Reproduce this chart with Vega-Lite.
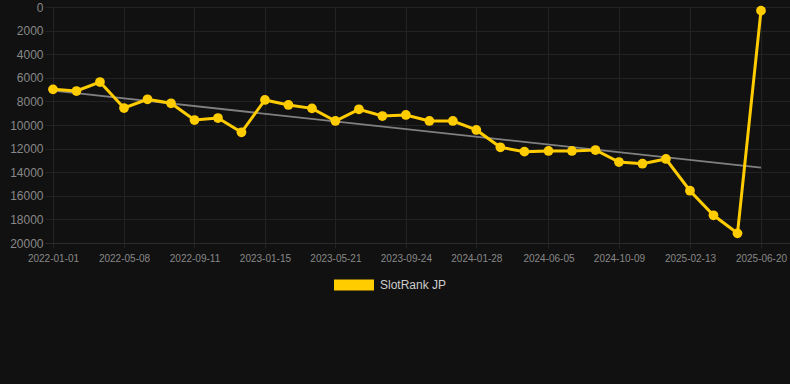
{
  "$schema": "https://vega.github.io/schema/vega-lite/v6.json",
  "autosize": {"type": "none"},
  "width": 745,
  "height": 236,
  "padding": {"left": 45, "top": 7, "right": 0, "bottom": 141},
  "background": "#111111",
  "config": {
    "view": {"stroke": null},
    "font": "Liberation Sans",
    "axis": {"gridColor": "#232323", "gridWidth": 1, "domain": false, "tickColor": "#232323", "labelColor": "#888888", "labelFont": "Liberation Sans"}
  },
  "datasets": {
    "rank": [
      {"date": "2022-01-01", "rank": 6980},
      {"date": "2022-02-12", "rank": 7120},
      {"date": "2022-03-26", "rank": 6360},
      {"date": "2022-05-08", "rank": 8560},
      {"date": "2022-06-19", "rank": 7820},
      {"date": "2022-07-31", "rank": 8160},
      {"date": "2022-09-11", "rank": 9580},
      {"date": "2022-10-23", "rank": 9410},
      {"date": "2022-12-04", "rank": 10620},
      {"date": "2023-01-15", "rank": 7880},
      {"date": "2023-02-26", "rank": 8300},
      {"date": "2023-04-09", "rank": 8590},
      {"date": "2023-05-21", "rank": 9660},
      {"date": "2023-07-02", "rank": 8670},
      {"date": "2023-08-13", "rank": 9240},
      {"date": "2023-09-24", "rank": 9150},
      {"date": "2023-11-05", "rank": 9660},
      {"date": "2023-12-17", "rank": 9660},
      {"date": "2024-01-28", "rank": 10420},
      {"date": "2024-03-11", "rank": 11890},
      {"date": "2024-04-23", "rank": 12260},
      {"date": "2024-06-05", "rank": 12200},
      {"date": "2024-07-17", "rank": 12200},
      {"date": "2024-08-28", "rank": 12120},
      {"date": "2024-10-09", "rank": 13140},
      {"date": "2024-11-20", "rank": 13280},
      {"date": "2025-01-01", "rank": 12880},
      {"date": "2025-02-13", "rank": 15570},
      {"date": "2025-03-27", "rank": 17650},
      {"date": "2025-05-09", "rank": 19180},
      {"date": "2025-06-20", "rank": 310}
    ],
    "trend": [
      {"date": "2022-01-01", "rank": 7090},
      {"date": "2025-06-20", "rank": 13620}
    ]
  },
  "encoding": {
    "x": {
      "field": "date",
      "type": "temporal",
      "scale": {"type": "utc", "domain": [{"year": 2021, "month": 12, "date": 17, "hours": 17, "utc": true}, {"year": 2025, "month": 8, "date": 10, "hours": 21, "utc": true}]},
      "axis": {
        "title": null,
        "labelExpr": "utcFormat(datum.value, '%Y-%m-%d')",
        "values": [
          {"year": 2022, "month": 1, "date": 1, "utc": true},
          {"year": 2022, "month": 5, "date": 8, "utc": true},
          {"year": 2022, "month": 9, "date": 11, "utc": true},
          {"year": 2023, "month": 1, "date": 15, "utc": true},
          {"year": 2023, "month": 5, "date": 21, "utc": true},
          {"year": 2023, "month": 9, "date": 24, "utc": true},
          {"year": 2024, "month": 1, "date": 28, "utc": true},
          {"year": 2024, "month": 6, "date": 5, "utc": true},
          {"year": 2024, "month": 10, "date": 9, "utc": true},
          {"year": 2025, "month": 2, "date": 13, "utc": true},
          {"year": 2025, "month": 6, "date": 20, "utc": true}
        ],
        "labelFontSize": 10,
        "tickSize": 5,
        "labelPadding": 5,
        "labelFlush": false,
        "labelOverlap": false,
        "domain": true,
        "domainColor": "#2c2c2c"
      }
    },
    "y": {
      "field": "rank",
      "type": "quantitative",
      "scale": {"domain": [0, 20000], "reverse": true, "nice": false},
      "axis": {
        "title": null,
        "values": [0, 2000, 4000, 6000, 8000, 10000, 12000, 14000, 16000, 18000, 20000],
        "format": "d",
        "labelFontSize": 12,
        "ticks": false,
        "labelPadding": 2
      }
    }
  },
  "layer": [
    {
      "data": {"name": "trend"},
      "mark": {"type": "line", "color": "#808080", "strokeWidth": 1.8}
    },
    {
      "data": {"name": "rank"},
      "mark": {"type": "line", "strokeWidth": 3, "point": {"filled": true, "size": 95, "opacity": 1}},
      "encoding": {
        "color": {
          "datum": "SlotRank JP",
          "scale": {"range": ["#ffcc00"]},
          "legend": {
            "title": null,
            "orient": "none",
            "legendX": 289,
            "legendY": 258,
            "symbolType": "M-1,-0.275L1,-0.275L1,0.275L-1,0.275Z",
            "symbolSize": 1600,
            "symbolStrokeWidth": 0,
            "symbolFillColor": "#ffcc00",
            "labelColor": "#cccccc",
            "labelFontSize": 12,
            "labelFont": "Liberation Sans",
            "labelOffset": 6
          }
        }
      }
    }
  ]
}
